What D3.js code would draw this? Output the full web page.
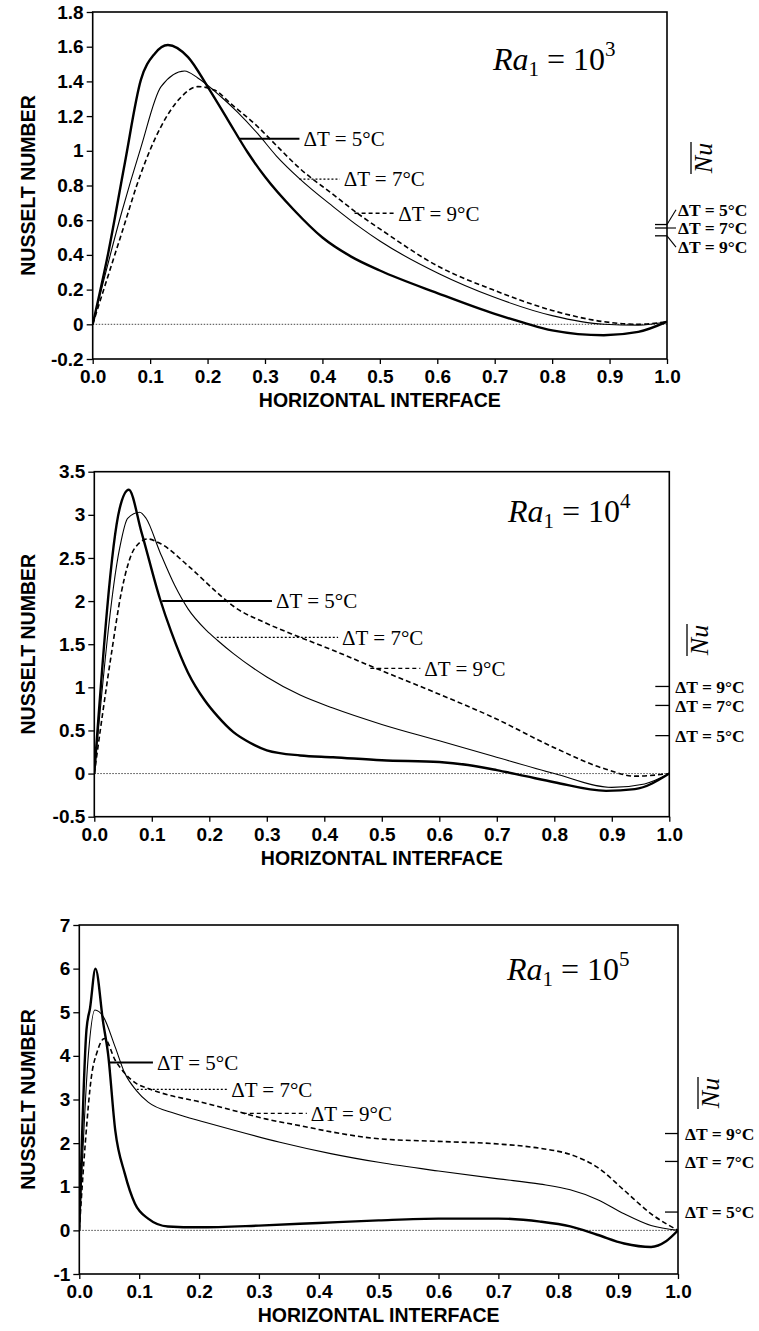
<!DOCTYPE html>
<html><head><meta charset="utf-8">
<script src="https://cdn.jsdelivr.net/npm/d3@7"></script>
<style>body{margin:0;background:#fff}</style>
</head><body>
<svg id="c" width="759" height="1331"></svg>
<script>
// ---------- data ----------
const xTickValues = [0,0.1,0.2,0.3,0.4,0.5,0.6,0.7,0.8,0.9,1.0];
const xTickLabels = ["0.0","0.1","0.2","0.3","0.4","0.5","0.6","0.7","0.8","0.9","1.0"];
const seriesNames = ["ΔT = 5°C","ΔT = 7°C","ΔT = 9°C"];
const raExponents = ["3","4","5"];

// Ra1 = 10^3
const ra3Ticks = [-0.2,0,0.2,0.4,0.6,0.8,1,1.2,1.4,1.6,1.8];
const ra3TickLabels = ["-0.2","0","0.2","0.4","0.6","0.8","1","1.2","1.4","1.6","1.8"];
const ra3_dT5 = [[0,0],[0.027,0.41],[0.056,0.93],[0.084,1.41],[0.108,1.56],[0.131,1.61],[0.166,1.54],[0.2,1.37],[0.235,1.18],[0.27,0.99],[0.3,0.85],[0.35,0.66],[0.4,0.5],[0.45,0.39],[0.5,0.31],[0.6,0.18],[0.7,0.06],[0.75,0.01],[0.8,-0.035],[0.89,-0.063],[0.95,-0.044],[1.0,0.015]];
const ra3_dT7 = [[0,0],[0.05,0.64],[0.084,1.02],[0.119,1.37],[0.16,1.46],[0.183,1.42],[0.224,1.31],[0.253,1.22],[0.287,1.1],[0.32,0.97],[0.36,0.84],[0.418,0.68],[0.465,0.56],[0.5,0.48],[0.604,0.29],[0.696,0.16],[0.8,0.05],[0.89,0.0],[0.95,-0.005],[1.0,0.015]];
const ra3_dT9 = [[0,0],[0.05,0.52],[0.084,0.87],[0.119,1.14],[0.154,1.31],[0.183,1.37],[0.212,1.35],[0.241,1.27],[0.287,1.14],[0.32,1.03],[0.36,0.9],[0.418,0.75],[0.465,0.63],[0.5,0.55],[0.604,0.33],[0.696,0.2],[0.8,0.08],[0.89,0.015],[0.95,0.0],[1.0,0.015]];
const ra3MeanNu = [0.575,0.555,0.51];        // ΔT = 5, 7, 9
const ra3MeanLabelY = [0.66,0.555,0.445];      // label positions (data units)

// Ra1 = 10^4
const ra4Ticks = [-0.5,0,0.5,1,1.5,2,2.5,3,3.5];
const ra4TickLabels = ["-0.5","0","0.5","1","1.5","2","2.5","3","3.5"];
const ra4_dT5 = [[0,0],[0.044,3.07],[0.06,3.29],[0.082,2.8],[0.114,2.03],[0.134,1.64],[0.163,1.17],[0.192,0.85],[0.215,0.66],[0.242,0.48],[0.27,0.36],[0.3,0.27],[0.358,0.21],[0.415,0.19],[0.5,0.155],[0.6,0.135],[0.65,0.1],[0.7,0.04],[0.75,-0.03],[0.8,-0.1],[0.89,-0.2],[0.94,-0.18],[1.0,0]];
const ra4_dT7 = [[0,0],[0.044,2.61],[0.058,2.96],[0.079,3.03],[0.09,2.96],[0.114,2.57],[0.14,2.18],[0.163,1.91],[0.195,1.66],[0.215,1.54],[0.242,1.39],[0.3,1.12],[0.358,0.91],[0.415,0.76],[0.5,0.57],[0.6,0.38],[0.694,0.2],[0.8,0.0],[0.9,-0.16],[0.957,-0.12],[1.0,0]];
const ra4_dT9 = [[0,0],[0.03,1.4],[0.047,2.1],[0.058,2.41],[0.07,2.61],[0.093,2.72],[0.114,2.67],[0.163,2.41],[0.215,2.09],[0.242,1.94],[0.3,1.74],[0.358,1.58],[0.415,1.43],[0.49,1.22],[0.6,0.92],[0.694,0.65],[0.8,0.3],[0.89,0.05],[0.94,-0.03],[1.0,0]];
const ra4MeanNu = [0.44,0.79,1.01];

// Ra1 = 10^5
const ra5Ticks = [-1,0,1,2,3,4,5,6,7];
const ra5TickLabels = ["-1","0","1","2","3","4","5","6","7"];
const ra5_dT5 = [[0,0],[0.012,4.6],[0.018,5.1],[0.027,6.0],[0.04,4.75],[0.048,4.05],[0.06,2.3],[0.076,1.3],[0.093,0.61],[0.115,0.27],[0.148,0.09],[0.2,0.07],[0.3,0.11],[0.4,0.17],[0.5,0.23],[0.6,0.27],[0.7,0.27],[0.77,0.2],[0.82,0.09],[0.865,-0.1],[0.91,-0.3],[0.955,-0.38],[0.98,-0.25],[1.0,0]];
const ra5_dT7 = [[0,0],[0.015,4.0],[0.026,5.05],[0.04,4.9],[0.06,4.2],[0.076,3.6],[0.095,3.21],[0.115,2.94],[0.16,2.68],[0.21,2.48],[0.257,2.3],[0.335,2.02],[0.42,1.76],[0.5,1.56],[0.6,1.36],[0.7,1.18],[0.77,1.06],[0.82,0.93],[0.865,0.71],[0.91,0.38],[0.955,0.11],[1.0,0]];
const ra5_dT9 = [[0,0],[0.01,2.0],[0.02,3.5],[0.03,4.1],[0.042,4.4],[0.06,3.9],[0.076,3.6],[0.095,3.37],[0.115,3.25],[0.15,3.1],[0.2,2.95],[0.257,2.75],[0.313,2.55],[0.369,2.4],[0.424,2.25],[0.5,2.1],[0.6,2.04],[0.7,1.98],[0.77,1.88],[0.82,1.74],[0.865,1.45],[0.91,0.92],[0.955,0.38],[1.0,0]];
const ra5MeanNu = [0.42,1.58,2.22];

// ---------- layout ----------
const SANS = "'Liberation Sans', Arial, Helvetica, sans-serif";
const SERIF = "'Liberation Serif', 'Times New Roman', Times, serif";
const svg = d3.select("#c");

const panels = [
  { x0:92.7, x1:667, y0:12, y1:359, yDomain:[-0.2,1.8], ticks:ra3Ticks, tickLabels:ra3TickLabels,
    series:[ra3_dT5, ra3_dT7, ra3_dT9], exp:raExponents[0], mean:ra3MeanNu, meanLabelY:ra3MeanLabelY,
    meanTickLen:12, meanLabelDx:11, nuCenter:[703,158],
    raPos:[493,70],
    labels:[ {x0:0.256,x1:0.36,y:1.07}, {x0:0.36,x1:0.43,y:0.837}, {x0:0.456,x1:0.525,y:0.64} ] },
  { x0:94.3, x1:669.3, y0:471.7, y1:816.7, yDomain:[-0.5,3.5], ticks:ra4Ticks, tickLabels:ra4TickLabels,
    series:[ra4_dT5, ra4_dT7, ra4_dT9], exp:raExponents[1], mean:ra4MeanNu, meanLabelY:null,
    meanTickLen:14, meanLabelDx:6, nuCenter:[699,640],
    raPos:[508,522],
    labels:[ {x0:0.118,x1:0.309,y:2.0}, {x0:0.213,x1:0.424,y:1.58}, {x0:0.48,x1:0.567,y:1.22} ] },
  { x0:79.3, x1:678, y0:925, y1:1274, yDomain:[-1,7], ticks:ra5Ticks, tickLabels:ra5TickLabels,
    series:[ra5_dT5, ra5_dT7, ra5_dT9], exp:raExponents[2], mean:ra5MeanNu, meanLabelY:null,
    meanTickLen:13, meanLabelDx:7, nuCenter:[710,1093],
    raPos:[507,980],
    labels:[ {x0:0.048,x1:0.123,y:3.85}, {x0:0.096,x1:0.247,y:3.23}, {x0:0.273,x1:0.38,y:2.68} ] }
];

const styles = [
  {w:2.4, dash:null},
  {w:1.1, dash:null},
  {w:1.6, dash:"5,3"}
];
const leaderStyles = [
  {w:2.0, dash:null},
  {w:1.2, dash:"2,2"},
  {w:1.3, dash:"4,3"}
];

panels.forEach((p, pi) => {
  const x = d3.scaleLinear().domain([0,1]).range([p.x0, p.x1]);
  const y = d3.scaleLinear().domain(p.yDomain).range([p.y1, p.y0]);
  const g = svg.append("g");

  const clipId = "clip" + pi;
  svg.append("defs").append("clipPath").attr("id", clipId)
    .append("rect").attr("x", p.x0).attr("y", p.y0).attr("width", p.x1-p.x0).attr("height", p.y1-p.y0);

  // zero line (dotted)
  g.append("line").attr("x1", x(0)).attr("x2", x(1)).attr("y1", y(0)).attr("y2", y(0))
    .attr("stroke","#333").attr("stroke-width",0.9).attr("stroke-dasharray","1.5,1.5");

  // axes
  const yAxis = d3.axisLeft(y).tickValues(p.ticks).tickFormat((d,i)=>p.tickLabels[i]).tickSize(6).tickPadding(3);
  const xAxis = d3.axisBottom(x).tickValues(xTickValues).tickFormat((d,i)=>xTickLabels[i]).tickSize(5).tickPadding(6);
  const ya = g.append("g").attr("transform",`translate(${p.x0},0)`).call(yAxis);
  const xa = g.append("g").attr("transform",`translate(0,${p.y1})`).call(xAxis);
  [ya, xa].forEach(a => {
    a.select(".domain").remove();
    a.selectAll("line").attr("stroke","#000").attr("stroke-width",1.3);
    a.selectAll("text").attr("font-family",SANS).attr("font-weight","bold").attr("font-size",19).attr("fill","#000");
  });

  // frame
  g.append("rect").attr("x",p.x0).attr("y",p.y0).attr("width",p.x1-p.x0).attr("height",p.y1-p.y0)
    .attr("fill","none").attr("stroke","#000").attr("stroke-width",1.6);

  // curves
  const line = d3.line().x(d=>x(d[0])).y(d=>y(d[1])).curve(d3.curveMonotoneX);
  p.series.forEach((s, si) => {
    g.append("path").datum(s).attr("d", line).attr("clip-path",`url(#${clipId})`)
      .attr("fill","none").attr("stroke","#000").attr("stroke-width",styles[si].w)
      .attr("stroke-dasharray",styles[si].dash).attr("stroke-linejoin","round");
  });

  // in-plot labels with leaders
  p.labels.forEach((L, li) => {
    g.append("line").attr("x1",x(L.x0)).attr("x2",x(L.x1)).attr("y1",y(L.y)).attr("y2",y(L.y))
      .attr("stroke","#000").attr("stroke-width",leaderStyles[li].w).attr("stroke-dasharray",leaderStyles[li].dash);
    g.append("text").attr("x",x(L.x1)+4).attr("y",y(L.y)).attr("dy","0.35em")
      .attr("font-family",SERIF).attr("font-size",21).text(seriesNames[li]);
  });

  // axis titles
  g.append("text").attr("x",(p.x0+p.x1)/2).attr("y",p.y1+48).attr("text-anchor","middle")
    .attr("font-family",SANS).attr("font-weight","bold").attr("font-size",19.5).text("HORIZONTAL INTERFACE");
  g.append("text").attr("transform",`translate(35,${(p.y0+p.y1)/2}) rotate(-90)`).attr("text-anchor","middle")
    .attr("font-family",SANS).attr("font-weight","bold").attr("font-size",19.5).text("NUSSELT NUMBER");

  // Ra label
  const rt = g.append("text").attr("x",p.raPos[0]).attr("y",p.raPos[1]).attr("font-family",SERIF).attr("font-size",32);
  rt.append("tspan").attr("font-style","italic").text("Ra");
  rt.append("tspan").attr("font-size",21).attr("dy",6).text("1");
  rt.append("tspan").attr("dy",-6).text("\u2005=\u200510");
  rt.append("tspan").attr("font-size",21).attr("dy",-14).text(p.exp);

  // mean Nu ticks + labels
  const xr = x(1);
  p.mean.forEach((v, mi) => {
    g.append("line").attr("x1",xr-p.meanTickLen).attr("x2",xr).attr("y1",y(v)).attr("y2",y(v))
      .attr("stroke","#000").attr("stroke-width",1.3);
    const ly = p.meanLabelY ? y(p.meanLabelY[mi]) : y(v);
    if (p.meanLabelY) {
      g.append("line").attr("x1",xr).attr("y1",y(v)).attr("x2",xr+p.meanLabelDx-2).attr("y2",ly)
        .attr("stroke","#000").attr("stroke-width",1.1);
    }
    g.append("text").attr("x",xr+p.meanLabelDx).attr("y",ly).attr("dy","0.35em")
      .attr("font-family",SERIF).attr("font-weight","bold").attr("font-size",17.5).text(seriesNames[mi]);
  });

  // Nu-bar label (rotated)
  const ng = g.append("g").attr("transform",`translate(${p.nuCenter[0]},${p.nuCenter[1]}) rotate(-90)`);
  ng.append("text").attr("x",0).attr("y",9).attr("text-anchor","middle")
    .attr("font-family",SERIF).attr("font-style","italic").attr("font-size",26).text("Nu");
  ng.append("line").attr("x1",-16).attr("x2",16).attr("y1",-12).attr("y2",-12).attr("stroke","#000").attr("stroke-width",1.3);
});
</script>
</body></html>
